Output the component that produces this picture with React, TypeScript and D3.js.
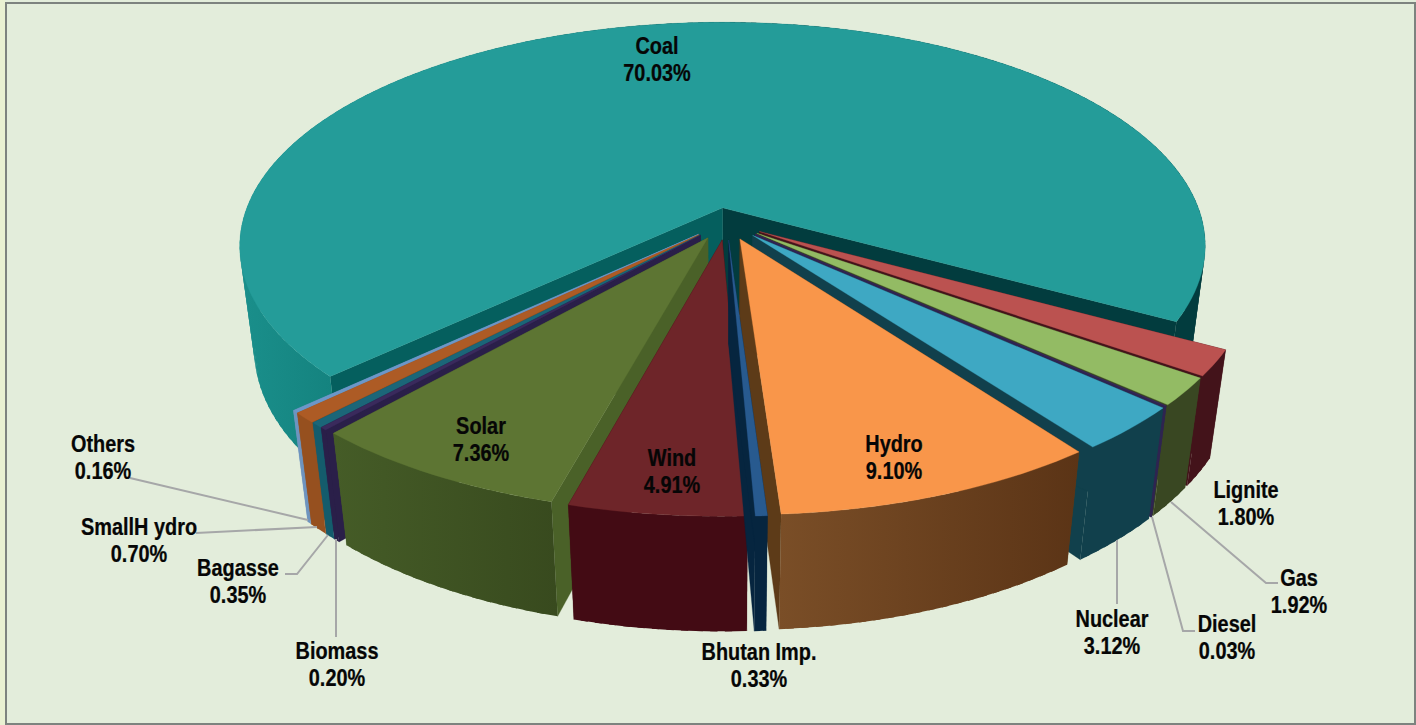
import React from "react";
import * as d3 from "d3";

const categories = ["Coal", "Lignite", "Gas", "Diesel", "Nuclear", "Hydro", "Bhutan Imp.", "Wind", "Solar", "Biomass", "Bagasse", "SmallH ydro", "Others"];
const shares = [70.03, 1.8, 1.92, 0.03, 3.12, 9.1, 0.33, 4.91, 7.36, 0.2, 0.35, 0.7, 0.16];
const shareLabels = ["70.03%", "1.80%", "1.92%", "0.03%", "3.12%", "9.10%", "0.33%", "4.91%", "7.36%", "0.20%", "0.35%", "0.70%", "0.16%"];
const explosion = [0.065, 0.08, 0.08, 0.08, 0.08, 0.08, 0.08, 0.08, 0.08, 0.08, 0.08, 0.08, 0.08];
const topColors = ["#249c99", "#bb5250", "#93bb64", "#3a2a5e", "#3ea8c3", "#f9964a", "#285a8f", "#6e2529", "#5d7533", "#3a2a5c", "#1b6678", "#ad5b25", "#6c97c8"];
// wall gradient, screen left to right
const wallColors = [
  ["#1a8f8b", "#13807c", "#023c3e", "#023c3e"],
  ["#43131a", "#43131a"],
  ["#394722", "#394722"],
  ["#2e2450", "#2e2450"],
  ["#11404c", "#11404c"],
  ["#7a4e27", "#5b3416"],
  ["#06253f", "#06253f"],
  ["#430b14", "#430b14"],
  ["#455c27", "#384a1e"],
  ["#2a1f49", "#2a1f49"],
  ["#145c6c", "#145c6c"],
  ["#96501f", "#96501f"],
  ["#6e94bf", "#6e94bf"],
];
// faces [end side, start side]
const cutColors = [
  ["#023c3e", "#055f5e"],
  ["#43131a", "#43131a"],
  ["#394722", "#394722"],
  ["#2e2450", "#2e2450"],
  ["#11404c", "#11404c"],
  ["#5d3b18", "#5d3b18"],
  ["#06253f", "#06253f"],
  ["#430b14", "#430b14"],
  ["#4a6128", "#4a6128"],
  ["#2a1f49", "#2a1f49"],
  ["#145c6c", "#145c6c"],
  ["#96501f", "#96501f"],
  ["#6e94bf", "#6e94bf"],
];
const paintOrder = ["Coal", "Lignite", "Gas", "Diesel", "Nuclear", "Others", "SmallH ydro", "Bagasse", "Biomass", "Solar", "Wind", "Hydro", "Bhutan Imp."];

const labelLayout: Record<string, { x: number; y: number }> = {
  Coal: { x: 657, y: 54 },
  Lignite: { x: 1246, y: 498 },
  Gas: { x: 1299, y: 586 },
  Diesel: { x: 1227, y: 632 },
  Nuclear: { x: 1112, y: 627 },
  Hydro: { x: 894, y: 452 },
  "Bhutan Imp.": { x: 759, y: 660 },
  Wind: { x: 672, y: 466 },
  Solar: { x: 481, y: 434 },
  Biomass: { x: 337, y: 659 },
  Bagasse: { x: 238, y: 576 },
  "SmallH ydro": { x: 139, y: 535 },
  Others: { x: 103, y: 452 },
};
const leaders: Record<string, [number, number][]> = {
  Gas: [[1278, 583], [1266, 583], [1171, 502]],
  Diesel: [[1195, 631], [1183, 631], [1152, 517]],
  Nuclear: [[1117, 604], [1117, 540]],
  Biomass: [[336, 637], [336, 539]],
  Bagasse: [[285, 574], [297, 574], [328, 535]],
  "SmallH ydro": [[196, 533], [317, 527]],
  Others: [[130, 478], [308, 520]],
};

const CX = 726.5, CY = 222, A = 481, B = 222, PERSP = 0.172, DEPTH = 106, SHRINK = 0.03;
const START = (226.7 * Math.PI) / 180;
const project = (X: number, Z: number, d: number): [number, number] => {
  const w = 1 - PERSP * Z + SHRINK * d;
  return [CX + (A * X) / w, CY + (B * Z + DEPTH * d) / w];
};
const toPath = d3.line<[number, number]>();
const deg = (r: number) => (r * 180) / Math.PI;

function buildSlice(i: number, arc: d3.PieArcDatum<number>) {
  const mid = (arc.startAngle + arc.endAngle) / 2;
  const ox = explosion[i] * Math.sin(mid);
  const oz = -explosion[i] * Math.cos(mid);
  const rim = (t: number, d: number) => project(Math.sin(t) + ox, -Math.cos(t) + oz, d);
  const tip = (d: number) => project(ox, oz, d);
  const span = arc.endAngle - arc.startAngle;
  const n = Math.max(2, Math.ceil(deg(span) / 1.5));
  const step = span / n;
  const angles = d3.range(n + 1).map((k) => arc.startAngle + step * k);
  // each strip runs a little under the next one, so no seam shows between them
  const strips = d3.pairs(angles).map(([t0, t1]) => {
    const t2 = Math.min(t1 + step * 0.5, arc.endAngle);
    return toPath([rim(t0, 0), rim(t2, 0), rim(t2, 1), rim(t0, 1)])! + "Z";
  });
  const xs = angles.flatMap((t) => [rim(t, 0)[0], rim(t, 1)[0]]);
  const x0 = d3.min(xs)!, x1 = d3.max(xs)!;
  const top = toPath([tip(0), ...angles.map((t) => rim(t, 0))])! + "Z";
  const face = (t: number, fill: string) => {
    const pts = [tip(0), rim(t, 0), rim(t, 1), tip(1)];
    return { pts, d: toPath(pts)! + "Z", fill };
  };
  const faces = [face(arc.endAngle, cutColors[i][0]), face(arc.startAngle, cutColors[i][1])];
  return { strips, x0, x1, top, faces };
}

export default function App() {
  const arcs = d3.pie<number>().sort(null).startAngle(START).endAngle(START + 2 * Math.PI)(shares);
  const slices = categories.map((c, i) => ({ name: c, i, ...buildSlice(i, arcs[i]) }));
  const ordered = paintOrder.map((n) => slices.find((s) => s.name === n)!);
  const font = "'Liberation Sans', Arial, sans-serif";
  return (
    <svg width={1416} height={725} viewBox="0 0 1416 725" style={{ position: "absolute", left: 0, top: 0, display: "block" }}>
      <defs>
        {slices.map((s) => {
          const cols = wallColors[s.i];
          const stops = cols.length === 4 ? [0, 0.12, 0.5, 1] : [0, 1];
          return (
            <linearGradient key={s.i} id={`wall${s.i}`} gradientUnits="userSpaceOnUse" x1={s.x0} x2={s.x1} y1={0} y2={0}>
              {cols.map((c, k) => (
                <stop key={k} offset={stops[k]} stopColor={c} />
              ))}
            </linearGradient>
          );
        })}
      </defs>
      <rect x={0} y={0} width={1416} height={725} fill="#e3eddb" />
      <rect x={0} y={0} width={5} height={725} fill="#e9f1d2" />
      <rect x={6} y={3} width={1409} height={721} fill="none" stroke="#7d837f" strokeWidth={2} />
      {ordered.map((s) => (
        <g key={s.name}>
          {s.faces.map((f, k) => (
            <path key={k} d={f.d} fill={f.fill} stroke={f.fill} strokeWidth={0.3} />
          ))}
          {s.strips.map((d, k) => (
            <path key={k} d={d} fill={`url(#wall${s.i})`} />
          ))}
          <path d={s.top} fill={topColors[s.i]} stroke={topColors[s.i]} strokeWidth={0.3} />
        </g>
      ))}
      {Object.keys(leaders).map((n) => (
        <path key={n} d={toPath(leaders[n])!} fill="none" stroke="#a6a7a8" strokeWidth={2} />
      ))}
      {categories.map((c, i) => (
        <text key={c} transform={`translate(${labelLayout[c].x},${labelLayout[c].y}) scale(0.865,1)`} textAnchor="middle" fontFamily={font} fontWeight={700} fontSize={23} fill="#060606" stroke="#060606" strokeWidth={0.25}>
          <tspan x={0}>{c}</tspan>
          <tspan x={0} dy={27}>{shareLabels[i]}</tspan>
        </text>
      ))}
    </svg>
  );
}
